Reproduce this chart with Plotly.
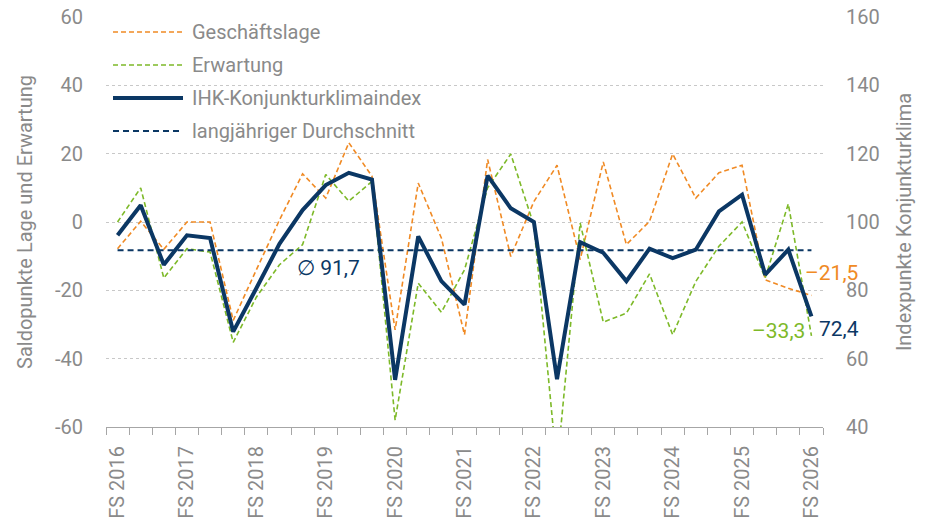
import plotly.graph_objects as go

# survey periods: Frühsommer (FS), Herbst (H), Jahresbeginn (JB)
periods = ["FS 2016"]
for yr in range(2016, 2026):
    periods += [f"H {yr}", f"JB {yr+1}", f"FS {yr+1}"]

# Saldopunkte (left axis)
lage = [-7.8, 0.2, -8.0, 0.0, 0.0, -28.8, -14.0, 0.6, 14.1, 7.0, 23.2, 13.4, -31.6, 11.4, -4.7, -33.0,
        18.3, -10.1, 6.0, 16.6, -11.0, 17.6, -6.6, 0.2, 19.9, 7.0, 14.4, 16.6, -16.9, -19.4, -21.5]
erwartung = [0.0, 10.0, -16.4, -7.8, -8.8, -35.2, -22.0, -12.5, -6.6, 13.9, 6.1, 11.9, -58.0, -17.9, -26.4, -14.0,
             10.0, 19.9, -1.0, -72.0, -0.3, -29.3, -26.7, -15.2, -33.0, -17.4, -7.1, 0.0, -16.4, 5.3, -33.3]
# Indexpunkte (right axis)
ihk = [96.1, 104.9, 87.5, 96.1, 95.3, 67.9, 80.6, 93.6, 103.5, 110.8, 114.4, 112.4, 53.8, 95.8, 82.7, 75.8,
       113.6, 104.0, 100.0, 54.0, 94.1, 91.0, 82.7, 92.2, 89.4, 91.9, 103.1, 108.0, 84.6, 91.9, 72.4]
durchschnitt = 91.7

left_ticks = [-60, -40, -20, 0, 20, 40, 60]
right_ticks = [40, 60, 80, 100, 120, 140, 160]

ORANGE = "#F08A24"
GREEN = "#7DB928"
NAVY = "#0B3764"
GREY = "#8A8A8A"
FONT = "Roboto"

x = list(range(len(periods)))
fs_idx = [i for i, p in enumerate(periods) if p.startswith("FS")]

styles = {
    "Geschäftslage": dict(color=ORANGE, width=1.6, dash="5px,3px"),
    "Erwartung": dict(color=GREEN, width=1.6, dash="5px,3px"),
    "IHK-Konjunkturklimaindex": dict(color=NAVY, width=4),
    "langjähriger Durchschnitt": dict(color=NAVY, width=2, dash="6px,4px"),
}

fig = go.Figure()
fig.add_trace(go.Scatter(x=x, y=lage, name="Geschäftslage", mode="lines",
                         line=styles["Geschäftslage"]))
fig.add_trace(go.Scatter(x=x, y=erwartung, name="Erwartung", mode="lines",
                         line=styles["Erwartung"]))
fig.add_trace(go.Scatter(x=x, y=ihk, name="IHK-Konjunkturklimaindex", mode="lines", yaxis="y2",
                         line=styles["IHK-Konjunkturklimaindex"]))
fig.add_trace(go.Scatter(x=[x[0], x[-1]], y=[durchschnitt, durchschnitt], name="langjähriger Durchschnitt",
                         mode="lines", yaxis="y2", line=styles["langjähriger Durchschnitt"]))

# legend (drawn in paper coordinates to get the long line samples of the original)
plot_h = 410.0
plot_w = 717.0
for k, (name, st) in enumerate(styles.items()):
    yp = 1 - (15 + 33 * k) / plot_h
    dash = st.get("dash", "solid")
    fig.add_shape(type="line", xref="paper", yref="paper", x0=7 / plot_w, x1=77 / plot_w, y0=yp, y1=yp,
                  line=dict(color=st["color"], width=st["width"], dash=dash))
    fig.add_annotation(xref="paper", yref="paper", x=84 / plot_w, y=yp, text=name, showarrow=False,
                       xanchor="left", yanchor="middle", font=dict(family=FONT, size=20, color=GREY))

def fmt(v):
    s = f"{abs(v):.1f}".replace(".", ",")
    return ("–" if v < 0 else "") + s

fig.add_annotation(x=9.1, y=durchschnitt - 5.2, yref="y2", text="∅ " + fmt(durchschnitt), showarrow=False,
                   font=dict(family=FONT, size=21, color=NAVY))
fig.add_annotation(x=x[-1], y=lage[-1], text=fmt(lage[-1]), showarrow=False, xanchor="left",
                   xshift=-8, yshift=22, font=dict(family=FONT, size=21, color=ORANGE))
fig.add_annotation(x=x[-1], y=erwartung[-1], text=fmt(erwartung[-1]), showarrow=False, xanchor="right",
                   xshift=-4, yshift=5, font=dict(family=FONT, size=21, color=GREEN))
fig.add_annotation(x=x[-1], y=ihk[-1], yref="y2", text=fmt(ihk[-1]), showarrow=False, xanchor="left",
                   xshift=6, yshift=-13, font=dict(family=FONT, size=21, color=NAVY))

# the page body has an 8px margin, so the figure is 8px smaller than the window
fig.update_layout(
    width=926, height=509,
    margin=dict(l=98, r=111, t=9, b=90, autoexpand=False),
    paper_bgcolor="white", plot_bgcolor="white",
    font=dict(family=FONT, color=GREY, size=20),
    showlegend=False,
    xaxis=dict(range=[-0.5, len(periods) - 0.5], tickmode="array", tickvals=fs_idx,
               ticktext=[periods[i] for i in fs_idx], tickangle=-90, ticks="", automargin=False,
               tickfont=dict(family=FONT, size=20, color=GREY), ticklabelstandoff=10,
               ticklabeloverflow="allow",
               showgrid=False, zeroline=False, showline=True, linecolor="#A6A6A6", linewidth=1,
               minor=dict(tickmode="array", tickvals=[i - 0.5 for i in range(len(periods) + 1)],
                          ticks="outside", ticklen=7, tickcolor="#A6A6A6", showgrid=False)),
    yaxis=dict(range=[-60, 60], tickmode="array", tickvals=left_ticks, ticktext=[str(v) for v in left_ticks],
               showgrid=True, gridcolor="#C8C8C8", griddash="dot", gridwidth=1, zeroline=False, automargin=False,
               tickfont=dict(family=FONT, size=20, color=GREY), ticklabelstandoff=22,
               ticklabeloverflow="allow",
               title=dict(text="Saldopunkte Lage und Erwartung", font=dict(family=FONT, size=20, color=GREY),
                          standoff=16)),
    yaxis2=dict(range=[40, 160], tickmode="array", tickvals=right_ticks, ticktext=[str(v) for v in right_ticks],
                overlaying="y", side="right", showgrid=False, zeroline=False, automargin=False,
                tickfont=dict(family=FONT, size=20, color=GREY), ticklabelstandoff=22,
                ticklabeloverflow="allow",
                title=dict(text="Indexpunkte Konjunkturklima", font=dict(family=FONT, size=20, color=GREY),
                           standoff=18)),
)

fig.write_html("out.html")
